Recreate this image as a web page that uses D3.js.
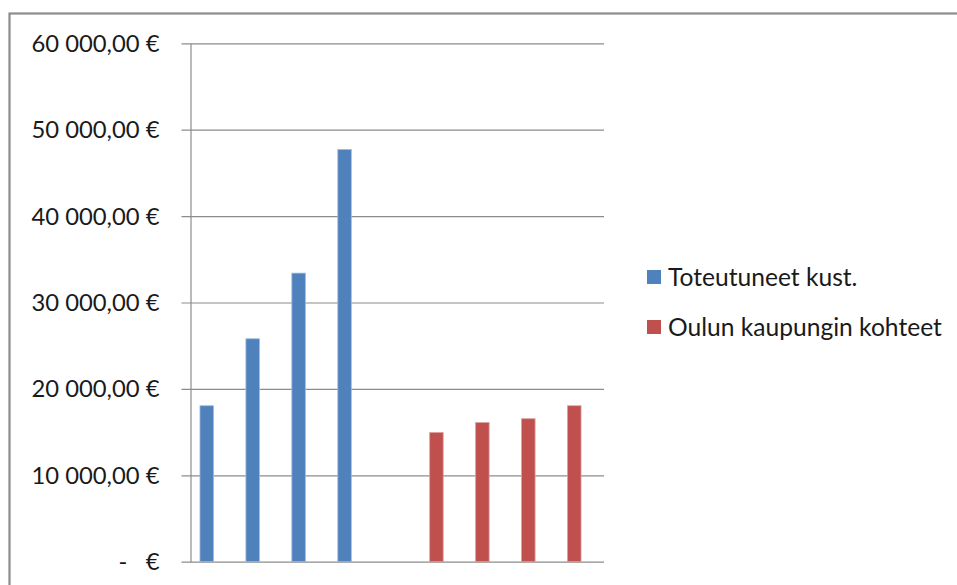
<!DOCTYPE html>
<html>
<head>
<meta charset="utf-8">
<script src="https://cdn.jsdelivr.net/npm/d3@7"></script>
<style>
  html, body { margin: 0; padding: 0; background: #fff; }
  svg { display: block; }
  text { font-family: Lato, "Open Sans", sans-serif; fill: #1a1a1a; }
</style>
</head>
<body>
<svg id="chart" width="957" height="585"></svg>
<script>
// Categories along the x axis (not labelled on the chart)
const categories = ["1", "2", "3", "4", "5", "6", "7", "8", "9"];

// Series names and values per category (null = no bar in that category)
const seriesNames = ["Toteutuneet kust.", "Oulun kaupungin kohteet"];
const toteutuneet = [18050, 25800, 33400, 47700, null, null, null, null, null];
const oulunKohteet = [0, null, null, null, null, 14950, 16100, 16550, 18050];
const seriesColors = ["#4F81BD", "#C0504D"];

// Y axis ticks
const yTicks = [0, 10000, 20000, 30000, 40000, 50000, 60000];

const seriesValues = [toteutuneet, oulunKohteet];

const svg = d3.select("#chart");

// Chart frame
svg.append("rect")
  .attr("x", 9.5).attr("y", 13.5)
  .attr("width", 1000).attr("height", 600)
  .attr("fill", "#fff")
  .attr("stroke", "#8c8c8c").attr("stroke-width", 2.2);

const plot = { left: 190.5, right: 604, top: 43.3, bottom: 561.7 };

const y = d3.scaleLinear().domain([0, 60000]).range([plot.bottom, plot.top]);
const x = d3.scaleBand().domain(categories)
  .range([plot.left, plot.right])
  .paddingInner(0.4123).paddingOuter(0.2062);
const sub = d3.scaleBand().domain([0, 1]).range([0, x.bandwidth()]);

// Currency label formatting, e.g. "60 000,00 €"
const fmt = v => {
  if (v === 0) return "-   €";
  const s = d3.format(",.2f")(v);
  return s.replace(/,/g, " ").replace(".", ",") + " €";
};

// Gridlines and left axis
const yAxis = d3.axisLeft(y).tickValues(yTicks).tickFormat(fmt)
  .tickSize(-(plot.right - plot.left)).tickSizeOuter(0).tickPadding(0);
const gAxis = svg.append("g")
  .attr("transform", `translate(${plot.left},0)`)
  .call(yAxis);
gAxis.select(".domain").attr("stroke", "#8c8c8c").attr("stroke-width", 1.2);
gAxis.selectAll(".tick line").attr("stroke", "#8c8c8c").attr("stroke-width", 1.2)
  .attr("x1", -9);
gAxis.selectAll(".tick text")
  .attr("x", -31)
  .attr("dy", "0.34em")
  .style("white-space", "pre")
  .style("font-family", "Lato, 'Open Sans', sans-serif")
  .style("font-size", "23.8px")
  .attr("fill", "#1a1a1a");

// Bars: in each category the series that have a value are packed left to right
const bars = [];
categories.forEach((c, ci) => {
  let k = 0;
  seriesValues.forEach((vals, si) => {
    const v = vals[ci];
    if (v !== null && v !== undefined) {
      bars.push({ cat: c, series: si, slot: k, value: v });
      k++;
    }
  });
});

svg.append("g").selectAll("rect")
  .data(bars)
  .join("rect")
  .attr("x", d => x(d.cat) + sub(d.slot))
  .attr("width", sub.bandwidth())
  .attr("y", d => y(d.value))
  .attr("height", d => y(0) - y(d.value))
  .attr("fill", d => seriesColors[d.series])
  .attr("stroke", d => d3.interpolateRgb(seriesColors[d.series], "#fff")(0.45))
  .attr("stroke-width", 0.8);

// Legend
const legend = svg.append("g");
seriesNames.forEach((name, i) => {
  const ly = 277 + i * 50;
  legend.append("rect")
    .attr("x", 647).attr("y", ly - 7)
    .attr("width", 14).attr("height", 14)
    .attr("fill", seriesColors[i]);
  legend.append("text")
    .attr("x", 668).attr("y", ly)
    .attr("dy", "0.35em")
    .style("font-size", "24.6px")
    .text(name);
});
</script>
</body>
</html>
